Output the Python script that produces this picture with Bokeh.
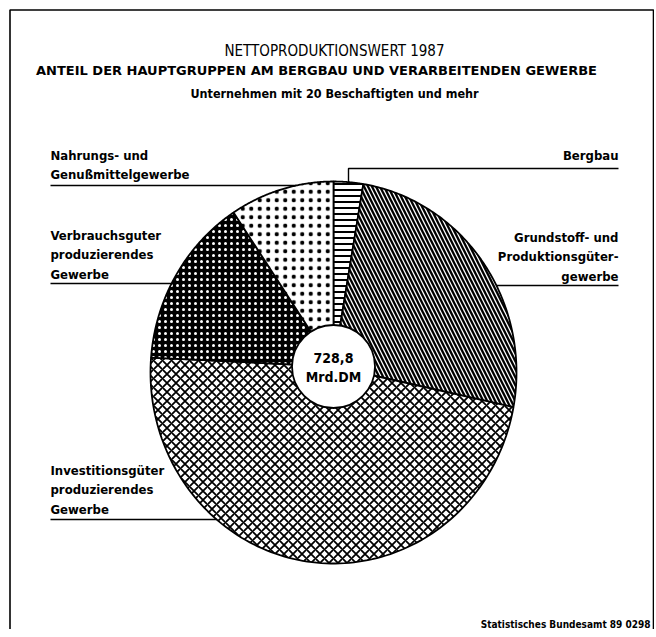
import numpy as np
from bokeh.plotting import figure
from bokeh.models import Range1d, ColumnDataSource
from bokeh.core.properties import value
from bokeh.embed import file_html
from bokeh.resources import INLINE

# ---------------- data ----------------
categories = [
    "Bergbau",
    "Grundstoff- und\nProduktionsgüter-\ngewerbe",
    "Investitionsgüter\nproduzierendes\nGewerbe",
    "Verbrauchsguter\nproduzierendes\nGewerbe",
    "Nahrungs- und\nGenußmittelgewerbe",
]
values_mrd_dm = [19.0, 184.4, 352.3, 106.1, 67.0]   # Mrd. DM, sum 728.8
total_text = "728,8\nMrd.DM"
title_1 = "NETTOPRODUKTIONSWERT 1987"
title_2 = "ANTEIL DER HAUPTGRUPPEN AM BERGBAU UND VERARBEITENDEN GEWERBE"
title_3 = "Unternehmen mit 20 Beschaftigten und mehr"
source_note = "Statistisches Bundesamt 89 0298"

# ---------------- styles ----------------
fill_colors = ["white", "white", "white", "black", "white"]
hatch_patterns = ["horizontal_line", "left_diagonal_line", "diagonal_cross", "dot", "dot"]
hatch_colors = ["black", "black", "black", "white", "black"]
hatch_scales = [6, 8, 9, 6, 8.5]
hatch_weights = [2, 2.3, 1.8, 1, 0.6]

FONT = value("DejaVu Sans Condensed")
FONT_WIDE = value("DejaVu Sans")

# ---------------- geometry ----------------
W, H = 654, 629
cx, cy, ra, rb = 333.0, 372.0, 183.0, 191.0   # pie ellipse centre & radii (px)
hx, hy, hr = 333.0, 366.0, 41.5               # hub

vals = np.array(values_mrd_dm, dtype=float)
cum = np.concatenate([[0.0], np.cumsum(vals) / vals.sum()])
starts = 90.0 - 360.0 * cum[:-1]
ends = 90.0 - 360.0 * cum[1:]

xs, ys = [], []
for s, e in zip(starts, ends):
    th = np.radians(np.linspace(s, e, 120))
    xs.append([hx] + list(cx + ra * np.cos(th)))
    ys.append([hy] + list(cy - rb * np.sin(th)))

src = ColumnDataSource(dict(
    xs=xs, ys=ys, fill=fill_colors, hp=hatch_patterns, hc=hatch_colors,
    hs=hatch_scales, hw=hatch_weights))

p = figure(width=W, height=H, x_range=Range1d(0, W), y_range=Range1d(H, 0),
           output_backend="svg", toolbar_location=None,
           x_axis_type=None, y_axis_type=None, min_border=0,
           outline_line_color=None, background_fill_color="white")
p.xgrid.visible = False
p.ygrid.visible = False

p.patches("xs", "ys", source=src, fill_color="fill", hatch_pattern="hp",
          hatch_color="hc", hatch_scale="hs", hatch_weight="hw",
          line_color="black", line_width=1.8)

p.circle(x=[hx], y=[hy], radius=hr, fill_color="white", line_color="black", line_width=1.8)


def edge_x(y, side):
    return cx + side * ra * np.sqrt(max(0.0, 1 - ((cy - y) / rb) ** 2))


def edge_y_top(x):
    return cy - rb * np.sqrt(max(0.0, 1 - ((x - cx) / ra) ** 2))


# frame (open at the bottom)
p.line(x=[9.5, 9.5, 653, 653], y=[H, 9.5, 9.5, H], line_color="black", line_width=1.6)

# leader lines
lx = 50
rx = 618
lead_xs = [
    [rx, 348, 348],
    [edge_x(285, 1), rx],
    [lx, edge_x(519, -1)],
    [lx, edge_x(283, -1)],
    [lx, edge_x(185, -1)],
]
lead_ys = [
    [168, 168, edge_y_top(348)],
    [285, 285],
    [519, 519],
    [283, 283],
    [185, 185],
]
p.multi_line(lead_xs, lead_ys, line_color="black", line_width=1.4)

# category labels
lab_x = [rx, rx, lx, lx, lx]
lab_y = [147, 229, 462, 227, 147]
lab_align = ["right", "right", "left", "left", "left"]
p.text(x=lab_x, y=lab_y, text=categories, text_align=lab_align, text_baseline="top",
       text_font=FONT, text_font_style="bold", text_font_size="13px",
       text_line_height=1.33, text_color="black")

# centre total
p.text(x=[hx], y=[hy + 1], text=[total_text], text_align="center", text_baseline="middle",
       text_font=FONT, text_font_style="bold", text_font_size="14px",
       text_line_height=1.2, text_color="black")

# titles
p.text(x=[334], y=[50], text=[title_1], text_align="center", text_baseline="alphabetic",
       text_font=FONT, text_font_size="15px", text_color="black")
p.text(x=[316], y=[70], text=[title_2], text_align="center", text_baseline="alphabetic",
       text_font=FONT_WIDE, text_font_style="bold", text_font_size="13px", text_color="black")
p.text(x=[334], y=[93], text=[title_3], text_align="center", text_baseline="alphabetic",
       text_font=FONT, text_font_style="bold", text_font_size="12.5px", text_color="black")

# source note
p.text(x=[650], y=[624], text=[source_note], text_align="right", text_baseline="alphabetic",
       text_font=FONT, text_font_style="bold", text_font_size="10px", text_color="black")

open("out.html", "w").write(file_html(p, INLINE))
